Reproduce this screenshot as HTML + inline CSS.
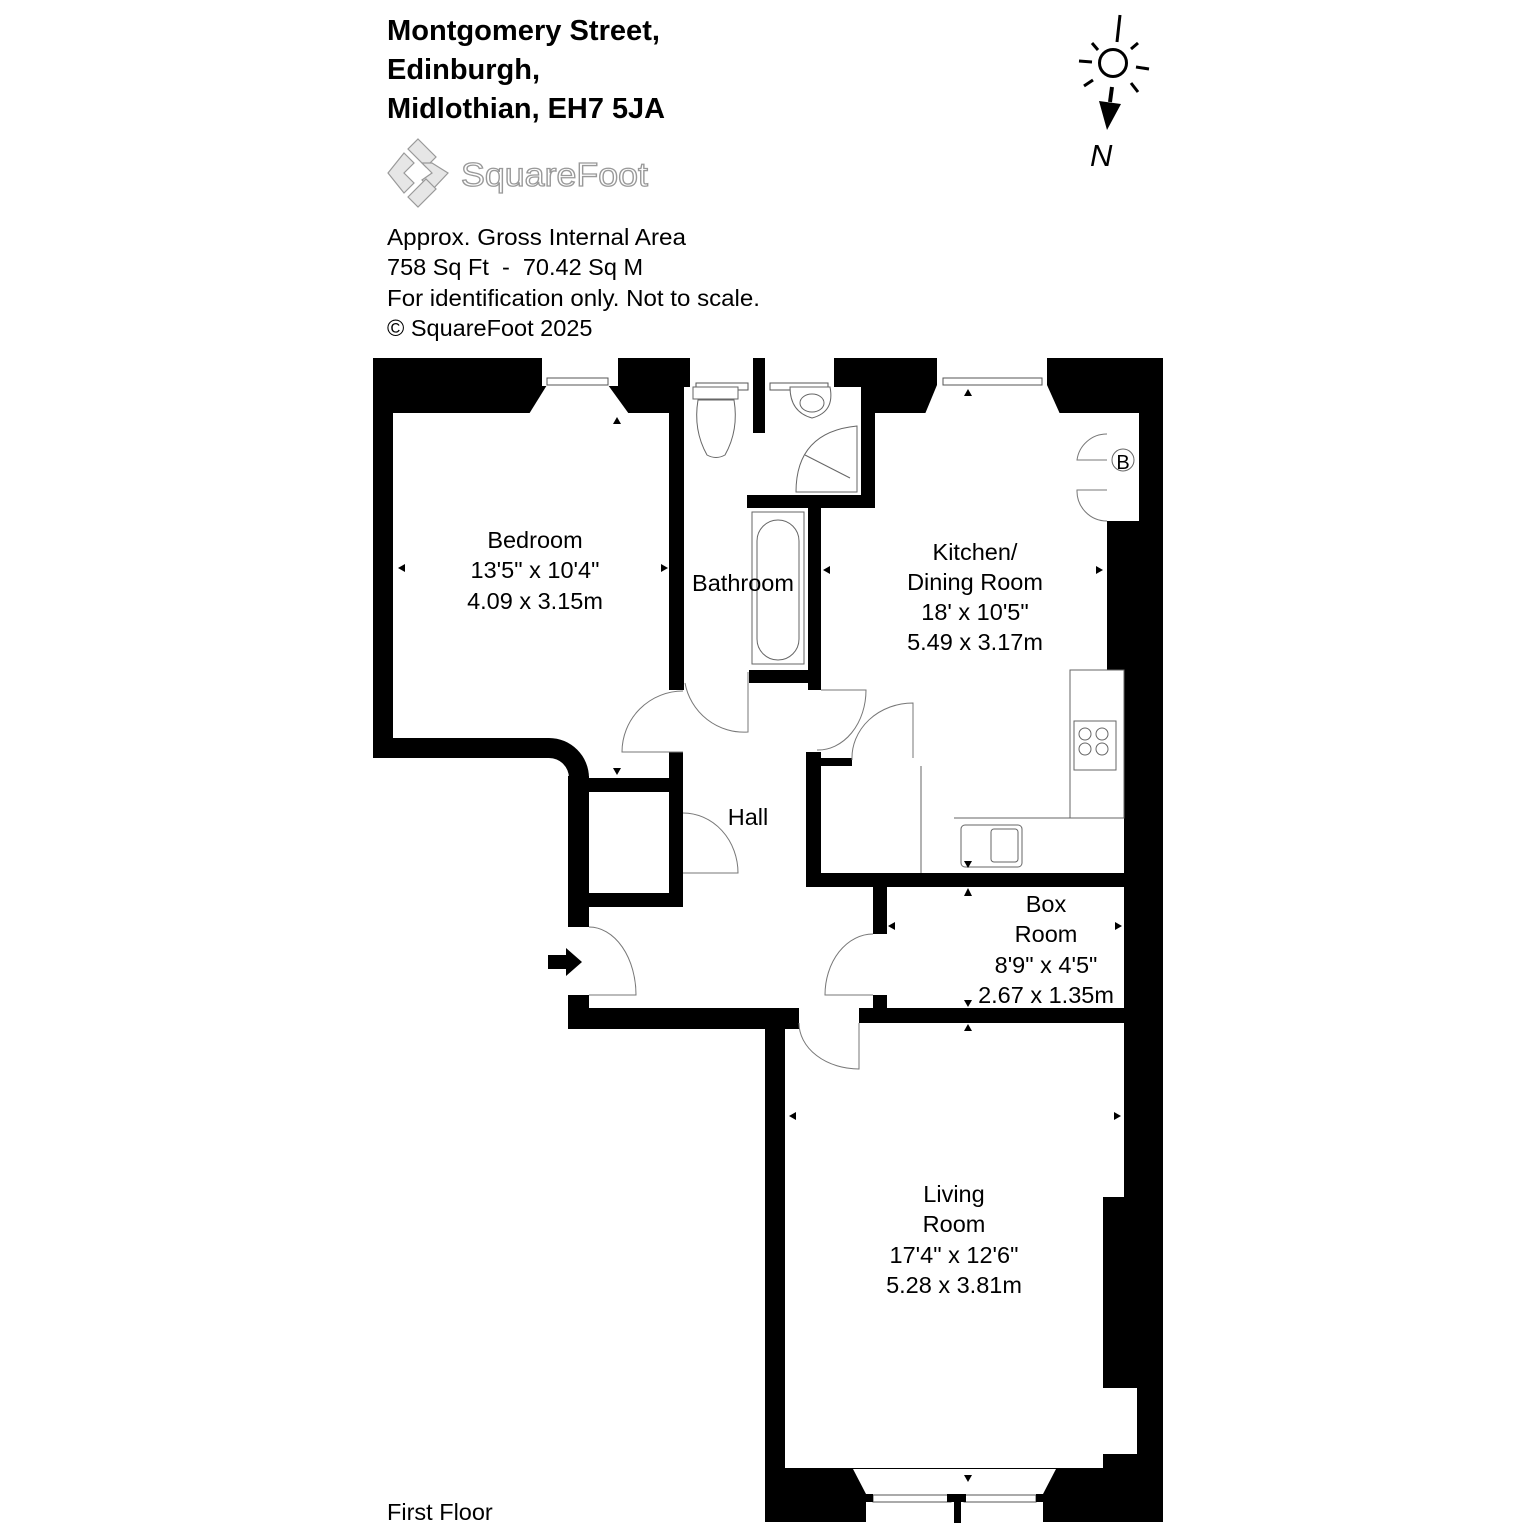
<!DOCTYPE html>
<html><head><meta charset="utf-8"><style>
body{margin:0;background:#fff}
svg{display:block}
text{font-family:"Liberation Sans",sans-serif}
</style></head><body>
<svg width="1536" height="1536" viewBox="0 0 1536 1536" xmlns="http://www.w3.org/2000/svg">
<rect width="1536" height="1536" fill="#fff"/>
<g font-weight="bold" font-size="29" fill="#000">
<text x="387" y="40" textLength="273" lengthAdjust="spacingAndGlyphs">Montgomery Street,</text>
<text x="387" y="79">Edinburgh,</text>
<text x="387" y="118" textLength="278" lengthAdjust="spacingAndGlyphs">Midlothian, EH7 5JA</text>
</g>
<g fill="#e6e6e6" stroke="#999" stroke-width="1.2">
<polygon points="418,139 436,157 426,167 408,149"/>
<polygon points="404,153 414,163 404,173 414,183 404,193 388,173"/>
<polygon points="432,163 448,173 432,190 422,180 432,173 422,163"/>
<polygon points="408,197 426,179 436,189 418,207"/>
</g>
<text x="461" y="186" font-size="33" fill="#fff" stroke="#999" stroke-width="1.3" textLength="187" lengthAdjust="spacingAndGlyphs">SquareFoot</text>
<g font-size="23.5" fill="#000">
<text x="387" y="245" textLength="299" lengthAdjust="spacingAndGlyphs">Approx. Gross Internal Area</text>
<text x="387" y="275" xml:space="preserve">758 Sq Ft  -  70.42 Sq M</text>
<text x="387" y="306" textLength="373" lengthAdjust="spacingAndGlyphs">For identification only. Not to scale.</text>
<text x="387" y="336">© SquareFoot 2025</text>
<text x="387" y="1520">First Floor</text>
</g>
<g stroke="#000" stroke-width="3" fill="none">
<line x1="1120" y1="15" x2="1117" y2="42"/>
<circle cx="1113" cy="63" r="13.5"/>
<line x1="1092" y1="43" x2="1098" y2="50"/>
<line x1="1138" y1="43" x2="1131" y2="49"/>
<line x1="1079" y1="61" x2="1092" y2="62"/>
<line x1="1136" y1="67" x2="1149" y2="69"/>
<line x1="1084" y1="86" x2="1093" y2="80"/>
<line x1="1131" y1="83" x2="1138" y2="92"/>
<line x1="1112" y1="87" x2="1110" y2="102" stroke-width="4"/>
</g>
<polygon points="1099,101 1121,104 1107,130" fill="#000"/>
<text x="1090" y="166" font-size="31" font-style="italic" fill="#000">N</text>

<g fill="#000">
<rect x="373" y="358" width="790" height="55"/>
<rect x="373" y="358" width="20" height="400"/>
<rect x="568" y="778" width="21" height="149"/>
<rect x="568" y="995" width="21" height="34"/>
<rect x="568" y="1008" width="231" height="21"/>
<rect x="669" y="413" width="15" height="277"/>
<rect x="669" y="752" width="14" height="155"/>
<rect x="589" y="778" width="94" height="14"/>
<rect x="589" y="893" width="94" height="14"/>
<rect x="669" y="778" width="14" height="35"/>
<rect x="753" y="358" width="12" height="75"/>
<rect x="861" y="358" width="14" height="150"/>
<rect x="747" y="495" width="128" height="13"/>
<rect x="808" y="495" width="13" height="195"/>
<rect x="749" y="670" width="72" height="13"/>
<rect x="806" y="752" width="15" height="135"/>
<rect x="806" y="873" width="318" height="14"/>
<rect x="819" y="758" width="33" height="8"/>
<rect x="913" y="758" width="41" height="8"/>
<rect x="941" y="758" width="13" height="120"/>
<rect x="873" y="887" width="14" height="47"/>
<rect x="873" y="995" width="14" height="20"/>
<rect x="859" y="1008" width="265" height="15"/>
<rect x="765" y="1020" width="20" height="502"/>
<rect x="765" y="1468" width="398" height="54"/>
<rect x="1139" y="358" width="24" height="1164"/>
<rect x="1107" y="521" width="56" height="149"/>
<rect x="1124" y="660" width="39" height="862"/>
<rect x="1103" y="1197" width="60" height="271"/>
</g>
<g fill="#fff">
<rect x="393" y="413" width="276" height="325"/>
<rect x="549" y="413" width="120" height="365"/>
<polygon points="529,414 547,385 608,385 629,414"/>
<rect x="542" y="357" width="76" height="29"/>
<rect x="684" y="387" width="177" height="108"/>
<rect x="690" y="357" width="63" height="31"/>
<rect x="765" y="357" width="69" height="31"/>
<rect x="875" y="413" width="232" height="460"/>
<polygon points="925,414 937,385 1047,385 1060,414"/>
<rect x="937" y="357" width="110" height="29"/>
<rect x="1107" y="427" width="32" height="94"/>
<rect x="1107" y="670" width="17" height="203"/>
<rect x="1103" y="1388" width="34" height="66"/>
<polygon points="853,1469 866,1494 1043,1494 1056,1469"/>
<rect x="866" y="1493" width="88" height="30"/>
<rect x="961" y="1493" width="82" height="30"/>
</g>
<g fill="#000">
<rect x="753" y="383" width="12" height="50"/>
<rect x="373" y="738" width="176" height="20"/>
<path d="M549,738 A40,40 0 0 1 589,778 L569,778 A20,20 0 0 0 549,758 Z"/>
<rect x="568" y="776" width="21" height="10"/>
</g>
<g stroke="#555" stroke-width="1" fill="none">
<rect x="547" y="378" width="61" height="7"/>
<rect x="696" y="383" width="52" height="7"/>
<rect x="770" y="383" width="58" height="7"/>
<rect x="943" y="378" width="99" height="7"/>
<rect x="873" y="1495" width="78" height="7"/>
<rect x="964" y="1495" width="72" height="7"/>
</g>
<g fill="#000">
<rect x="866" y="1494" width="7" height="8"/><rect x="1036" y="1494" width="7" height="8"/>
<rect x="947" y="1494" width="19" height="8"/><rect x="954" y="1494" width="7" height="29"/>
</g>
<g stroke="#666" stroke-width="1" fill="#fff">
<rect x="693" y="387" width="45" height="12"/>
<path d="M698,400 Q693,430 707,455 Q716,460 725,455 Q739,430 734,400 Z"/>
<path d="M790,387 L830,387 Q835,412 812,418 Q790,412 790,387 Z"/>
<ellipse cx="812" cy="403" rx="12" ry="9"/>
<path d="M857,492 L796,492 Q796,432 857,426 Z"/>
<line x1="805" y1="455" x2="850" y2="478"/>
<rect x="752" y="512" width="52" height="152"/>
<rect x="757" y="520" width="42" height="140" rx="21"/>
<rect x="1070" y="670" width="54" height="148" fill="none"/>
<line x1="954" y1="818" x2="1070" y2="818"/>
<rect x="1074" y="721" width="42" height="49"/>
<circle cx="1085" cy="734" r="6"/><circle cx="1102" cy="734" r="6"/>
<circle cx="1085" cy="749" r="6"/><circle cx="1102" cy="749" r="6"/>
<rect x="961" y="825" width="61" height="42" rx="4"/>
<rect x="991" y="829" width="27" height="33" rx="3"/>
<line x1="921" y1="766" x2="921" y2="873"/>
<circle cx="1123" cy="460" r="11"/>
</g>
<text x="1123" y="469" font-size="20" text-anchor="middle" fill="#000">B</text>
<g stroke="#777" stroke-width="1" fill="none">
<path d="M1107,434 A30,30 0 0 0 1077,460 L1107,460 M1107,521 A30,30 0 0 1 1077,490 L1107,490"/>
<path d="M683,691 A61,61 0 0 0 622,752 L683,752"/>
<path d="M748,672 L748,732 A60,60 0 0 1 685,683"/>
<path d="M821,690 L866,690 A48,60 0 0 1 817,750"/>
<path d="M913,758 L913,703 A61,55 0 0 0 852,760"/>
<path d="M683,813 A55,60 0 0 1 738,873 L683,873"/>
<path d="M589,927 A47,68 0 0 1 636,995 L589,995"/>
<path d="M873,934 A48,61 0 0 0 825,995 L873,995"/>
<path d="M799,1023 A60,46 0 0 0 859,1069 L859,1023"/>
</g>
<polygon points="548,955 566,955 566,948 582,962 566,976 566,969 548,969" fill="#000"/>
<g fill="#000">
<polygon points="398,568 405,564 405,572"/><polygon points="668,568 661,564 661,572"/>
<polygon points="617,417 613,424 621,424"/><polygon points="617,775 613,768 621,768"/>
<polygon points="823,570 830,566 830,574"/><polygon points="1103,570 1096,566 1096,574"/>
<polygon points="968,389 964,396 972,396"/>
<polygon points="968,868 964,861 972,861"/><polygon points="968,888 964,896 972,896"/>
<polygon points="888,926 895,922 895,930"/><polygon points="1122,926 1115,922 1115,930"/>
<polygon points="968,1007 964,1000 972,1000"/><polygon points="968,1024 964,1031 972,1031"/>
<polygon points="789,1116 796,1112 796,1120"/><polygon points="1121,1116 1114,1112 1114,1120"/>
<polygon points="968,1482 964,1475 972,1475"/>
</g>
<g font-size="23.5" fill="#000" text-anchor="middle">
<text x="535" y="548">Bedroom</text>
<text x="535" y="578">13'5" x 10'4"</text>
<text x="535" y="609">4.09 x 3.15m</text>
<text x="743" y="591">Bathroom</text>
<text x="975" y="560">Kitchen/</text>
<text x="975" y="590">Dining Room</text>
<text x="975" y="620">18' x 10'5"</text>
<text x="975" y="650">5.49 x 3.17m</text>
<text x="748" y="825">Hall</text>
<text x="1046" y="912">Box</text>
<text x="1046" y="942">Room</text>
<text x="1046" y="973">8'9" x 4'5"</text>
<text x="1046" y="1003">2.67 x 1.35m</text>
<text x="954" y="1202">Living</text>
<text x="954" y="1232">Room</text>
<text x="954" y="1263">17'4" x 12'6"</text>
<text x="954" y="1293">5.28 x 3.81m</text>
</g>
</svg>
</body></html>
